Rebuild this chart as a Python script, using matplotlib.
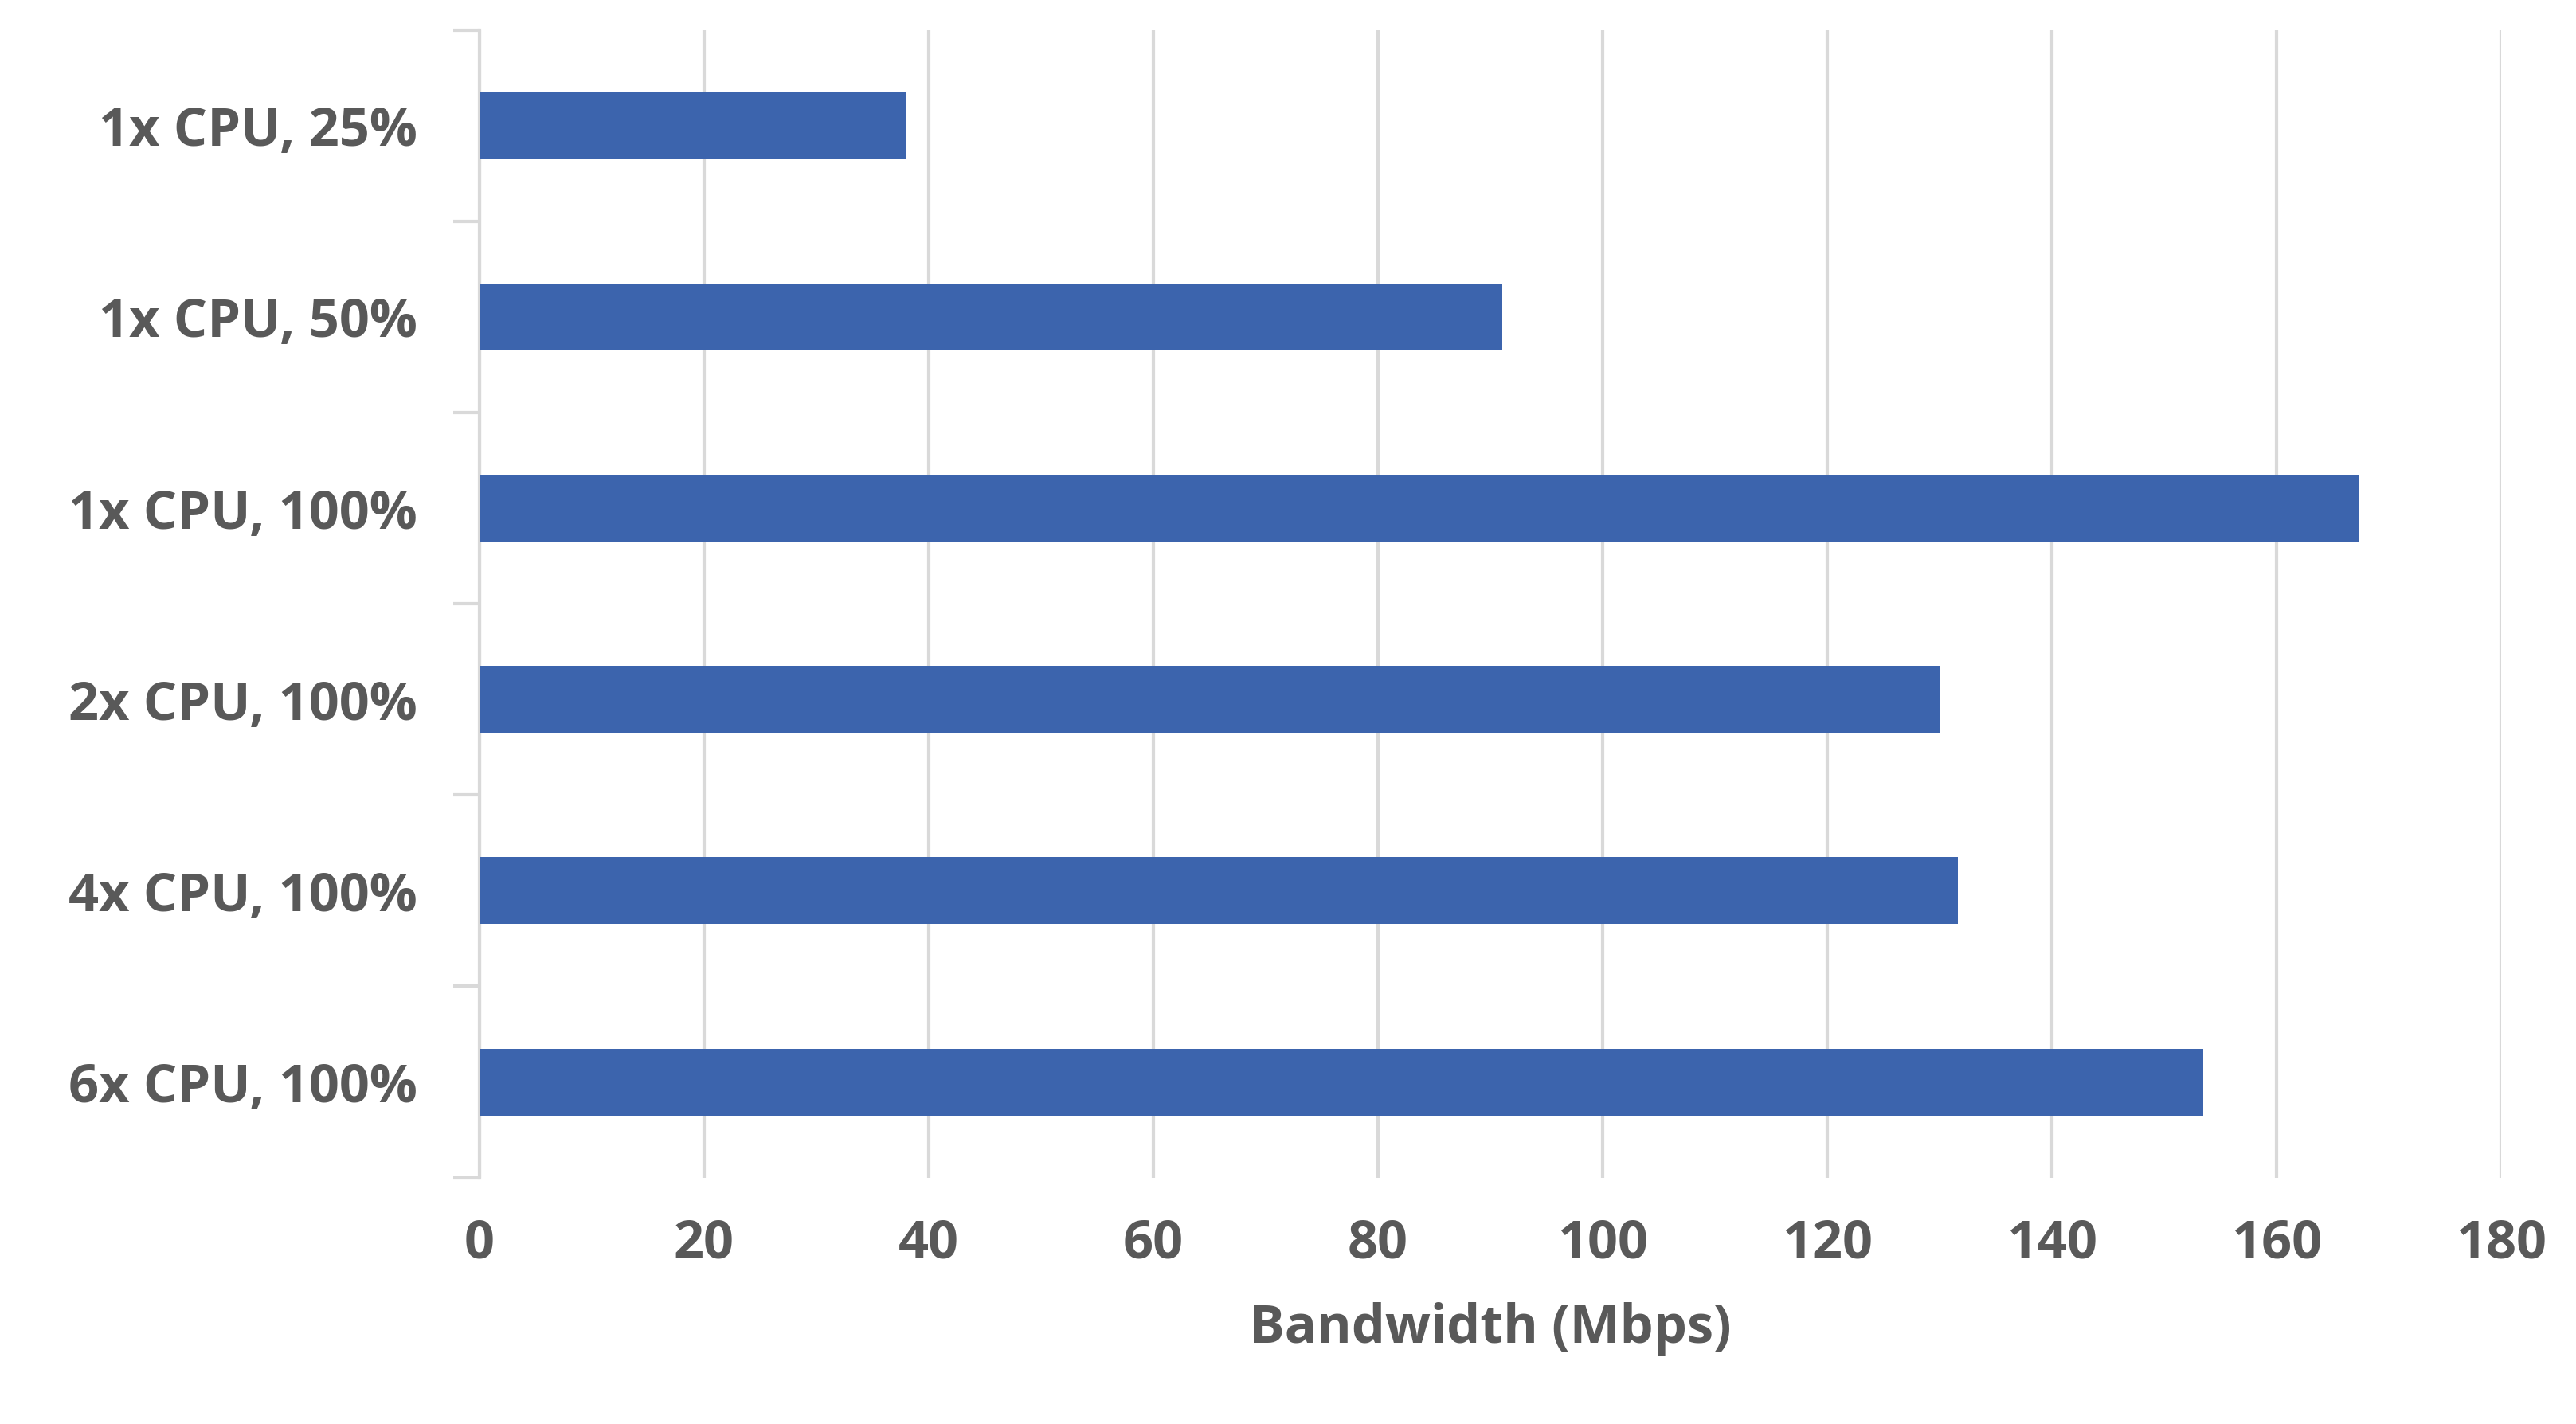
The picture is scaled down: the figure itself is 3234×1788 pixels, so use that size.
import matplotlib
matplotlib.use("Agg")
import matplotlib.pyplot as plt

categories = ["1x CPU, 25%", "1x CPU, 50%", "1x CPU, 100%", "2x CPU, 100%", "4x CPU, 100%", "6x CPU, 100%"]
values = [38.0, 91.1, 167.3, 130.0, 131.6, 153.5]
xticks = [0, 20, 40, 60, 80, 100, 120, 140, 160, 180]

plt.rcParams['font.family'] = ['Open Sans', 'DejaVu Sans']
grey = '#595959'
fig = plt.figure(figsize=(16.17, 8.94), dpi=200)
ax = fig.add_axes([0.186, 0.173, 0.785, 0.806])
y = list(range(len(categories)))
ax.barh(y, values, height=0.35, color='#3C64AD', zorder=3)
ax.set_ylim(len(categories) - 0.5, -0.5)
ax.set_xlim(0, 180)
ax.set_xticks(xticks)
ax.set_xticklabels([str(t) for t in xticks], fontsize=24, fontweight='bold', color=grey)
ax.set_yticks(y)
ax.set_yticklabels(categories, fontsize=24, fontweight='bold', color=grey)
ax.tick_params(axis='y', length=0, pad=28)
ax.tick_params(axis='x', length=0, pad=18)
ax.set_yticks([i - 0.5 for i in range(len(categories) + 1)], minor=True)
ax.tick_params(axis='y', which='minor', length=12, color='#D9D9D9', width=1.5)
ax.grid(axis='x', color='#D9D9D9', linewidth=1.5, zorder=0)
for s in ['top', 'right', 'bottom']:
    ax.spines[s].set_visible(False)
ax.spines['left'].set_color('#D9D9D9')
ax.spines['left'].set_linewidth(1.5)
ax.set_xlabel("Bandwidth (Mbps)", fontsize=24, fontweight='bold', color=grey, labelpad=14)
fig.savefig("out.png", dpi=200)
